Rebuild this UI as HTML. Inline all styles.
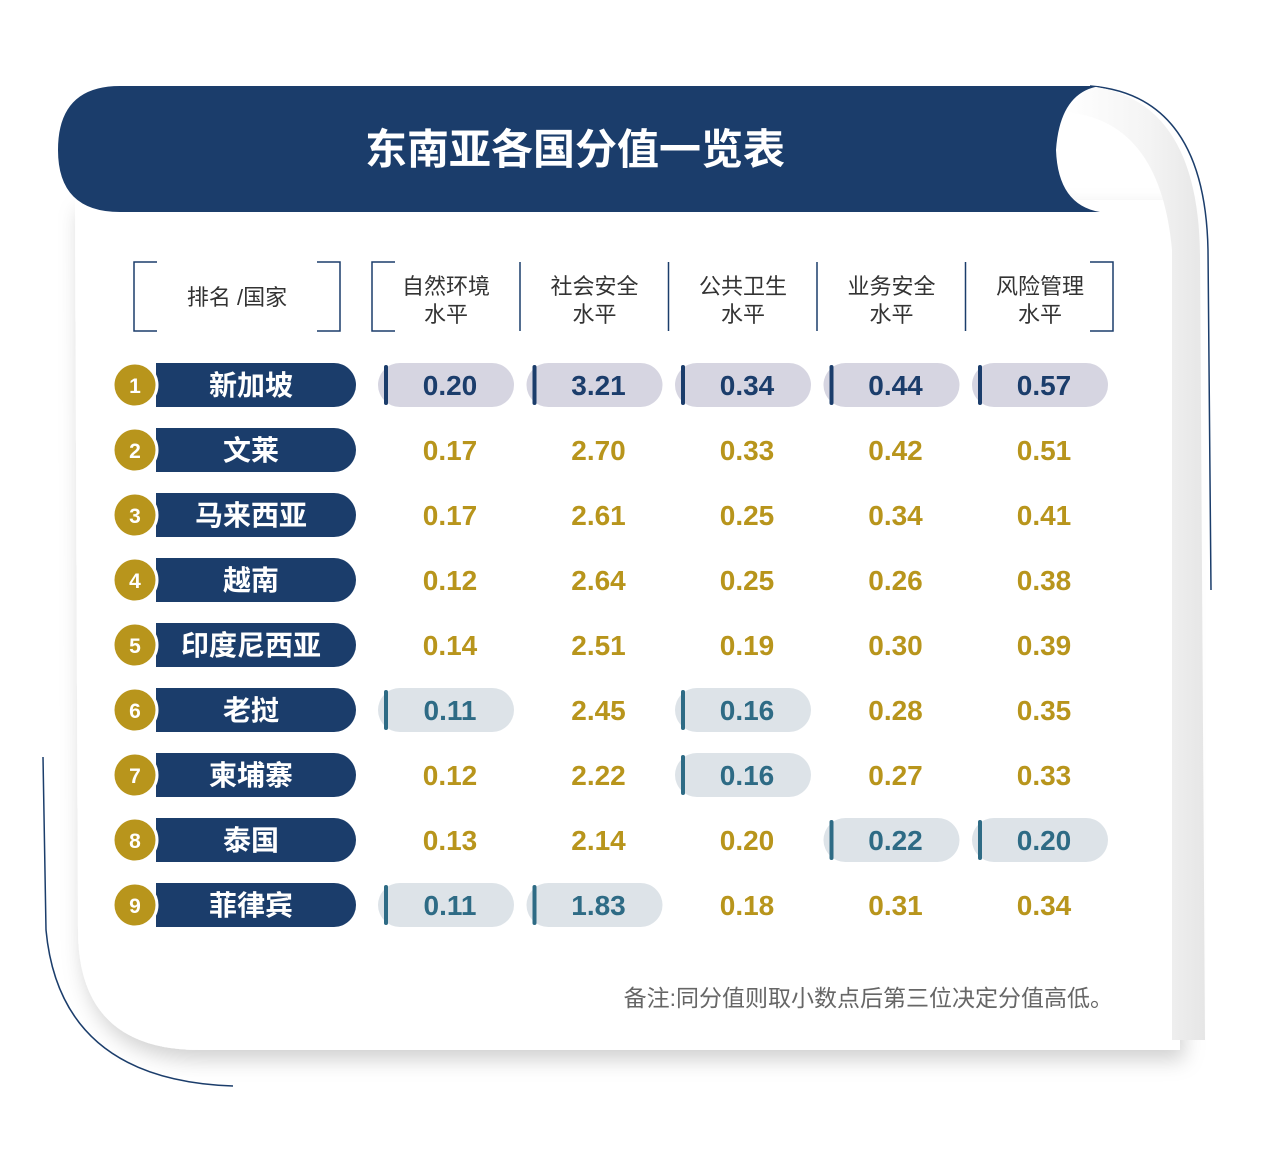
<!DOCTYPE html>
<html><head><meta charset="utf-8">
<style>
html,body{margin:0;padding:0;background:#fff;}
body{width:1280px;height:1158px;position:relative;overflow:hidden;font-family:"Liberation Sans","Noto Sans CJK SC",sans-serif;}
svg{position:absolute;left:0;top:0;}
</style></head>
<body>
<svg id="chart" width="1280" height="1158" viewBox="0 0 1280 1158">
<defs>
<filter id="sh" x="-10%" y="-10%" width="130%" height="130%"><feDropShadow dx="4" dy="10" stdDeviation="10" flood-color="#000" flood-opacity="0.18"/></filter>
<linearGradient id="curl" x1="0" x2="1"><stop offset="0" stop-color="#fff"/><stop offset="0.6" stop-color="#f4f4f4"/><stop offset="1" stop-color="#e6e6e6"/></linearGradient>
</defs>
<path d="M75 200 L1180 200 L1180 1050 L200 1050 Q78 1050 78 930 Z" fill="#fff" filter="url(#sh)"/>
<path d="M1090 86 Q1205 95 1208 250 L1211 590" fill="none" stroke="#1b3d6b" stroke-width="1.5"/>
<path d="M1090 86 Q1200 100 1200 260 L1205 1040 L1172 1040 L1172 250 Q1160 120 1065 112 Z" fill="url(#curl)"/>
<path d="M43 757 L46 930 Q60 1080 233 1086" fill="none" stroke="#1b3d6b" stroke-width="1.5"/>
<path d="M120 86 L1100 86 Q1060 92 1056 150 Q1058 205 1100 212 L120 212 Q58 212 58 150 Q58 86 120 86 Z" fill="#1b3d6b"/>
<text x="575" y="164" text-anchor="middle" font-size="42" font-weight="bold" fill="#fff" font-family="'Liberation Sans','Noto Sans CJK SC',sans-serif">东南亚各国分值一览表</text>
<g id="header" fill="none" stroke="#1b3d6b" stroke-width="1.5">
<path d="M157 262 H134 V331 H157 M317 262 H340 V331 H317"/>
<path d="M395 262 H372 V331 H395 M1090 262 H1113 V331 H1090"/>
</g>
<g id="dividers" stroke="#1b3d6b" stroke-width="1.5"></g>
<text x="237" y="305" text-anchor="middle" font-size="22" fill="#333">排名 /国家</text>
<g id="colheads"></g>
<g id="rows"></g>
<text x="1113" y="1006" text-anchor="end" font-size="23" fill="#666">备注:同分值则取小数点后第三位决定分值高低。</text>
</svg>
<script>
const countries = ["新加坡","文莱","马来西亚","越南","印度尼西亚","老挝","柬埔寨","泰国","菲律宾"];
const metricsLine1 = ["自然环境","社会安全","公共卫生","业务安全","风险管理"];
const natural = [0.20,0.17,0.17,0.12,0.14,0.11,0.12,0.13,0.11];
const social = [3.21,2.70,2.61,2.64,2.51,2.45,2.22,2.14,1.83];
const health = [0.34,0.33,0.25,0.25,0.19,0.16,0.16,0.20,0.18];
const business = [0.44,0.42,0.34,0.26,0.30,0.28,0.27,0.22,0.31];
const risk = [0.57,0.51,0.41,0.38,0.39,0.35,0.33,0.20,0.34];
const series = [natural, social, health, business, risk];
const NS = "http://www.w3.org/2000/svg";
const colX = i => 446 + i*148.5;
const rowY = i => 385 + i*65;
function mk(tag, attrs, parent){const e=document.createElementNS(NS,tag);for(const k in attrs)e.setAttribute(k,attrs[k]);parent.appendChild(e);return e;}
const dv=document.getElementById('dividers');
for(let i=0;i<4;i++){
  const l=mk('line',{x1:colX(i)+74,x2:colX(i)+74,y1:262,y2:331},dv);
  
  
}
const ch=document.getElementById('colheads');
metricsLine1.forEach((m,i)=>{
  const t=mk('text',{x:colX(i),y:294,'text-anchor':'middle','font-size':22,fill:'#333'},ch);
  
  
  t.textContent=m;
  const t2=mk('text',{x:colX(i),y:322,'text-anchor':'middle','font-size':22,fill:'#333'},ch);
  
  
  t2.textContent='水平';
});
const rows=document.getElementById('rows');
countries.forEach((c,r)=>{
  const y=rowY(r);
  const g=mk('g',{},rows);
  
  
  const p=mk('path',{d:`M156 ${y-22} H334 A22 22 0 0 1 334 ${y+22} H156 Z`,fill:'#1b3d6b'},g);
  
  
  const ci=mk('circle',{cx:135,cy:y,r:22,fill:'#b8951c',stroke:'#fff','stroke-width':3},g);
  
  
  const rn=mk('text',{x:135,y:y+8,'text-anchor':'middle','font-size':21,'font-weight':'bold',fill:'#fff'},g);
  
  
  rn.textContent=r+1;
  const cn=mk('text',{x:251,y:y+10,'text-anchor':'middle','font-size':28,'font-weight':'bold',fill:'#fff'},g);
  
  
  cn.textContent=c;
  series.forEach((s,k)=>{
    const v=s[r];
    const col=s.slice();
    const mx=Math.max(...col), mn=Math.min(...col);
    const isMax=v===mx && r===col.indexOf(mx);
    const isMin=v===mn;
    let fill='#b8951c';
    const x=colX(k);
    if(isMax||isMin){
      const bg=isMax?'#d6d5e1':'#dde3e8';
      const bar=isMax?'#1b3d6b':'#2e6b85';
      fill=bar;
      const hb=mk('rect',{x:x-68,y:y-22,width:136,height:44,rx:22,fill:bg},g);
      
      
      const bl=mk('rect',{x:x-62,y:y-20,width:4,height:40,rx:2,fill:bar},g);
      
      
    }
    const t=mk('text',{x:x+4,y:y+10,'text-anchor':'middle','font-size':28,'font-weight':'bold',fill:fill},g);
    
    
    t.textContent=v.toFixed(2);
  });
});
</script>
</body></html>
